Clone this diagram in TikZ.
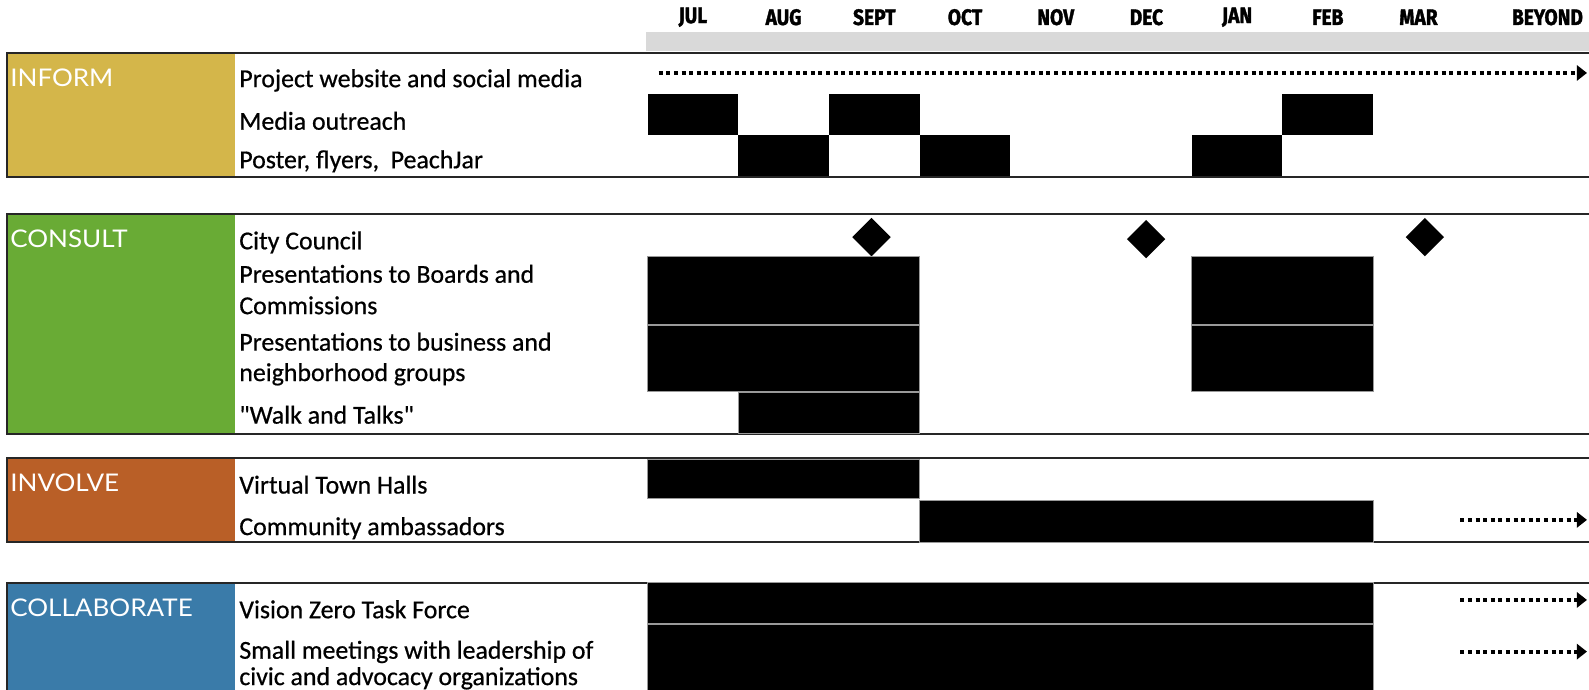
\documentclass[tikz,border=0pt]{standalone}
\usepackage{fontspec}
\usepackage{xcolor}
\usetikzlibrary{arrows.meta,shapes.geometric}
\setmainfont[FakeBold=0.6]{Carlito}
\newfontfamily\phasefont[FakeStretch=1.07]{Lato}
\newfontfamily\monthfont[FakeStretch=0.86,FakeBold=1.6]{Fira Sans}
\definecolor{pgold}{HTML}{D4B64A}
\definecolor{pgreen}{HTML}{69AB35}
\definecolor{porange}{HTML}{B95F27}
\definecolor{pblue}{HTML}{3A7BA9}
\definecolor{pline}{HTML}{262626}
\definecolor{pband}{HTML}{D9D9D9}
\tikzset{
  month/.style={font=\monthfont\bfseries\fontsize{22}{24}\selectfont,text=black},
  phaselabel/.style={anchor=base west,inner sep=0pt,
    font=\phasefont\fontsize{24}{26}\selectfont,text=white},
  tasktext/.style={anchor=base west,inner sep=0pt,
    font=\fontsize{25.5}{28}\selectfont,text=black},
  plainbar/.style={fill=black},
  taskbar/.style={fill=black,draw=black!40,line width=.8pt},
  milestone/.style={diamond,fill=black,inner sep=0pt,
    minimum width=38pt,minimum height=38pt},
  laterline/.style={line width=4pt,dash pattern=on 4pt off 3.5pt,
    -{Triangle[length=10pt,width=15pt]}},
}
% phase band: name, top, bottom, colour, label
\newcommand{\phase}[5]{%
  \fill[#4] (8,#2) rectangle (232,#3);
  \draw[pline,line width=2pt] (1568,#2) -- (7,#2) -- (7,#3) -- (1568,#3);
  \node[phaselabel] (#1) at (10,#2+33) {#5};
}
% task line: name, baseline, text
\newcommand{\task}[3]{%
  \node[tasktext] (#1) at (236,#2) {#3};
}
% bar over months #2..#3 (JUL = 0), rows #4..#5
\newcommand{\gbar}[5]{%
  \path[#1] ({639+89.5*#2},#4) rectangle ({639+89.5*(#3+1)},#5);
}
% continues beyond the chart
\newcommand{\later}[3]{%
  \coordinate (#1-s) at (#3,#2);
  \coordinate (#1-e) at (1566,#2);
  \draw[laterline] (#1-s) -- (#1-e);
}

\begin{document}
\begin{tikzpicture}[x=1pt,y=-1pt,line cap=butt,line join=miter]
\useasboundingbox (0,0) rectangle (1568,680);
\fill[white] (0,0) rectangle (1568,680);
\clip (0,0) rectangle (1568,680);

% month header
\fill[pband] (637,32) rectangle (1568,50);
\foreach \m [count=\i from 0] in {JUL,AUG,SEPT,OCT,NOV,DEC,JAN,FEB,MAR}
  \node[month] (m\i) at ({683.75+89.5*\i},17) {\m};
\node[month] (beyond) at (1527,17) {BEYOND};

% INFORM
\phase{inform}{52}{175}{pgold}{INFORM}
\task{web}{86}{Project website and social media}
\task{media}{128}{Media outreach}
\task{poster}{166}{Poster, flyers,\ \ PeachJar}
\later{webline}{72}{650}
\gbar{plainbar}{0}{0}{93}{133}
\gbar{plainbar}{2}{2}{93}{133}
\gbar{plainbar}{7}{7}{93}{133}
\gbar{plainbar}{1}{1}{133}{174}
\gbar{plainbar}{3}{3}{133}{174}
\gbar{plainbar}{6}{6}{133}{174}

% CONSULT
\phase{consult}{211}{428}{pgreen}{CONSULT}
\task{council}{246}{City Council}
\task{boards}{279}{Presentations to Boards and}
\task{boards2}{310}{Commissions}
\task{groups}{346}{Presentations to business and}
\task{groups2}{376}{neighborhood groups}
\task{walk}{418}{\textquotedbl Walk and Talks\textquotedbl}
\node[milestone] (cc1) at (860,234) {};
\node[milestone] (cc2) at (1131,236) {};
\node[milestone] (cc3) at (1406,234) {};
\gbar{taskbar}{0}{2}{253}{320}
\gbar{taskbar}{6}{7}{253}{320}
\gbar{taskbar}{0}{2}{321.5}{386}
\gbar{taskbar}{6}{7}{321.5}{386}
\gbar{taskbar}{1}{2}{387.5}{428}

% INVOLVE
\phase{involve}{452}{535}{porange}{INVOLVE}
\task{townhall}{487}{Virtual Town Halls}
\task{ambass}{528}{Community ambassadors}
\gbar{taskbar}{0}{2}{453}{492}
\gbar{taskbar}{3}{7}{493.5}{535}
\later{ambline}{513}{1441}

% COLLABORATE
\phase{collab}{575}{700}{pblue}{COLLABORATE}
\task{taskforce}{610}{Vision Zero Task Force}
\task{leaders}{650}{Small meetings with leadership of}
\task{leaders2}{676}{civic and advocacy organizations}
\gbar{taskbar}{0}{7}{575}{615}
\gbar{taskbar}{0}{7}{616.5}{700}
\later{tfline}{592}{1441}
\later{leadline}{643}{1441}

\end{tikzpicture}
\end{document}
